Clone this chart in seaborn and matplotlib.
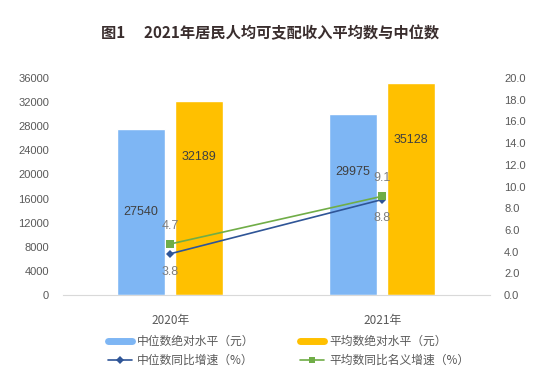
import pandas as pd
import seaborn as sns
import matplotlib.pyplot as plt
from matplotlib.lines import Line2D

years = ['2020年', '2021年']
median_income = [27540, 29975]
mean_income = [32189, 35128]
median_growth = [3.8, 8.8]
mean_growth = [4.7, 9.1]

series_bar = ['中位数绝对水平（元）', '平均数绝对水平（元）']
series_line = ['中位数同比增速（%）', '平均数同比名义增速（%）']

blue = '#7EB6F4'
orange = '#FFC000'
line_blue = '#2F5597'
line_green = '#70AD47'
gray = '#595959'

sns.set_style('white')
plt.rcParams['font.family'] = ['Liberation Sans', 'Noto Sans CJK SC', 'DejaVu Sans']
cjk = ['Noto Sans CJK SC', 'DejaVu Sans']

df = pd.DataFrame({
    'year': years * 2,
    'value': median_income + mean_income,
    'series': [series_bar[0]] * 2 + [series_bar[1]] * 2,
})

fig = plt.figure(figsize=(5.41, 3.87), dpi=100)
ax = fig.add_axes([0.1165, 0.2377, 0.7895, 0.5607])

sns.barplot(data=df, x='year', y='value', hue='series', palette=[blue, orange],
            width=0.547, gap=0.17, ax=ax, legend=False, saturation=1)
ax.set_xlim(-0.505, 1.509)
ax.set_ylim(0, 36000)
ax.set_yticks(range(0, 36001, 4000))
ax.set_xlabel('')
ax.set_ylabel('')
for s in ['top', 'left', 'right']:
    ax.spines[s].set_visible(False)
ax.spines['bottom'].set_color('#D9D9D9')
ax.tick_params(axis='y', length=0, pad=10, labelsize=8, labelcolor=gray)
ax.tick_params(axis='x', length=0, pad=14, labelcolor=gray)
for lab in ax.get_xticklabels():
    lab.set_fontfamily(cjk)
    lab.set_fontsize(8.5)

# bar value labels
bar_label_y = [[13770, 20400], [22900, 25700]]
for i, vals in enumerate([median_income, mean_income]):
    off = -0.137 if i == 0 else 0.137
    for j, v in enumerate(vals):
        ax.text(j + off, bar_label_y[i][j], str(v), ha='center', va='center',
                fontsize=9, color='#404040')

ax2 = ax.twinx()
sns.lineplot(x=[0, 1], y=median_growth, color=line_blue, marker='D', markersize=4,
             markeredgewidth=0, lw=1.2, ax=ax2)
sns.lineplot(x=[0, 1], y=mean_growth, color=line_green, marker='s', markersize=6,
             markeredgewidth=0, lw=1.2, ax=ax2)
ax2.set_ylim(0, 20)
ax2.set_yticks(range(0, 21, 2))
ax2.set_yticklabels([f'{t:.1f}' for t in range(0, 21, 2)])
for s in ['top', 'left', 'right', 'bottom']:
    ax2.spines[s].set_visible(False)
ax2.tick_params(axis='y', length=0, pad=10, labelsize=8, labelcolor=gray)

for j in range(2):
    ax2.annotate(f'{mean_growth[j]:.1f}', (j, mean_growth[j]), xytext=(0, 9),
                 textcoords='offset points', ha='center', va='bottom',
                 fontsize=9, color='#7F7F7F')
    ax2.annotate(f'{median_growth[j]:.1f}', (j, median_growth[j]), xytext=(0, -9),
                 textcoords='offset points', ha='center', va='top',
                 fontsize=9, color='#7F7F7F')

fig.text(0.5, 0.913, '图1\u3000 2021年居民人均可支配收入平均数与中位数', ha='center',
         va='center', fontsize=11, fontweight='bold', color='#3A2E2E',
         family=cjk)

handles = [
    Line2D([], [], color=blue, lw=5),
    Line2D([], [], color=line_blue, lw=1.2, marker='D', markersize=4, markeredgewidth=0),
    Line2D([], [], color=orange, lw=5),
    Line2D([], [], color=line_green, lw=1.2, marker='s', markersize=5, markeredgewidth=0),
]
labels = [series_bar[0], series_line[0], series_bar[1], series_line[1]]
leg = fig.legend(handles, labels, ncol=2, loc='center left',
                 bbox_to_anchor=(0.199, 0.093), frameon=False,
                 prop={'family': cjk, 'size': 8.5}, handlelength=2.1,
                 handletextpad=0.4, columnspacing=3.8, labelspacing=0.55,
                 borderaxespad=0, borderpad=0)
for t in leg.get_texts():
    t.set_color(gray)

fig.savefig('out.png', dpi=100)
